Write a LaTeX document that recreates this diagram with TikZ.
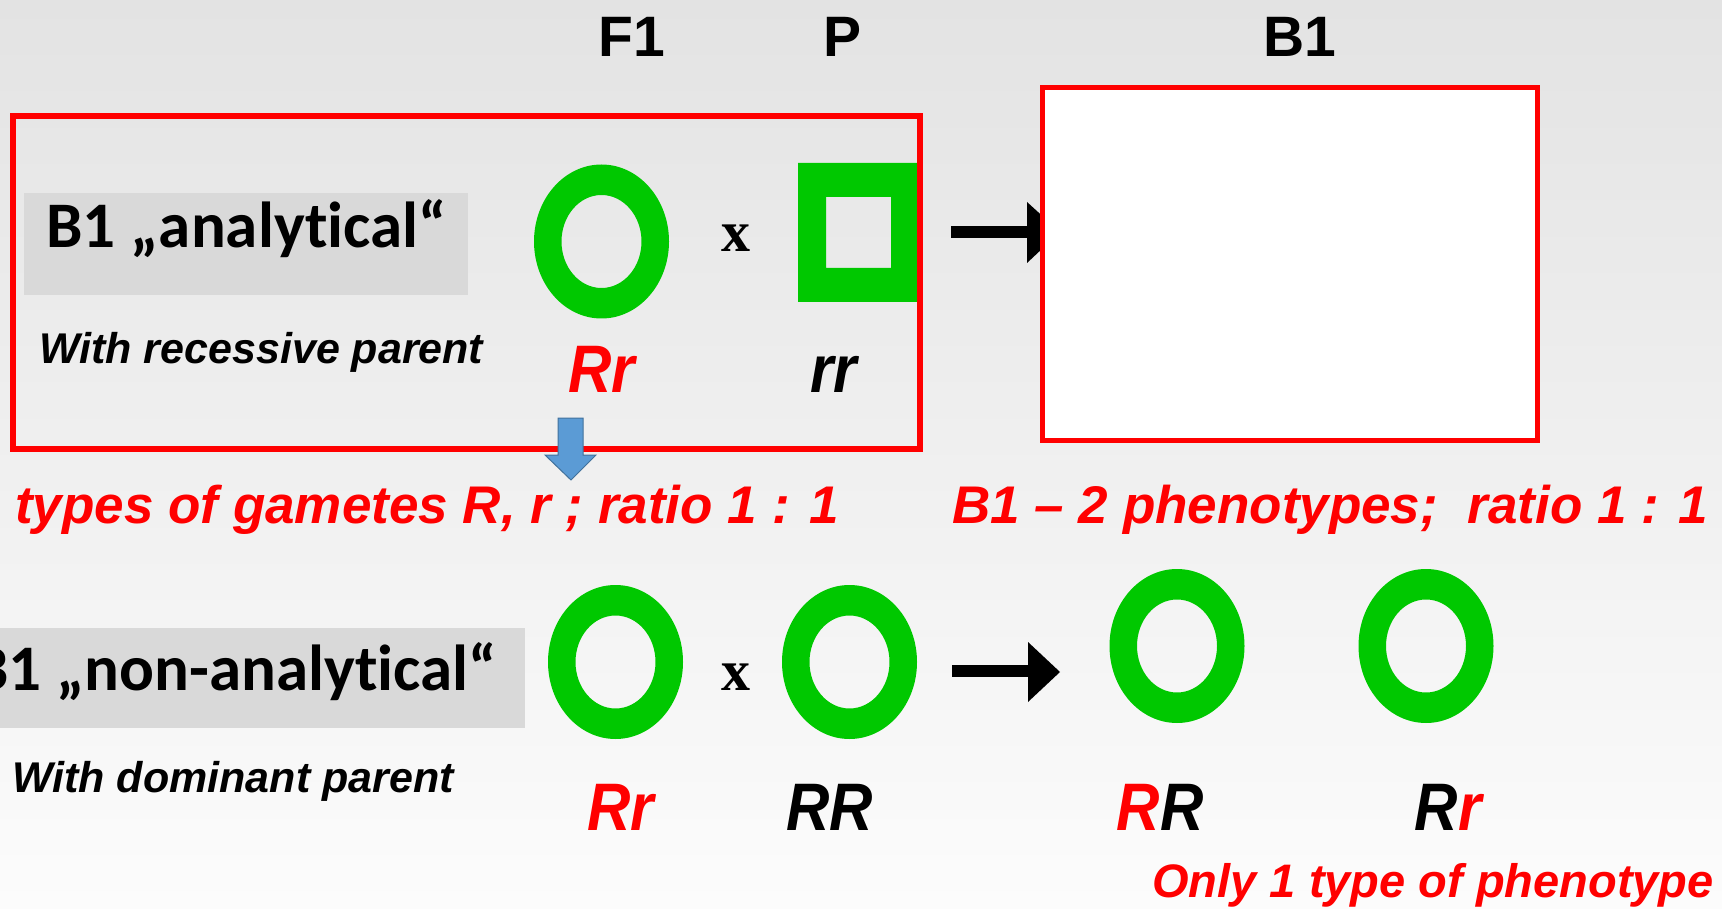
\documentclass[tikz,border=0pt]{standalone}
\usepackage{fontspec}
\setmainfont{Liberation Sans}
\newfontfamily\arialf{Liberation Sans}
\newfontfamily\calib[Ligatures=NoCommon]{Carlito}
\newfontfamily\timesf{Liberation Serif}
\definecolor{bgtop}{RGB}{227,227,227}
\definecolor{bgbot}{RGB}{252,252,252}
\definecolor{ringgreen}{RGB}{0,200,0}
\definecolor{boxred}{RGB}{255,0,0}
\definecolor{labelgray}{RGB}{217,217,217}
\definecolor{arrowblue}{RGB}{91,155,213}
\definecolor{arrowblueedge}{RGB}{65,113,156}
\tikzset{
  title/.style={inner sep=0pt, anchor=base, font=\arialf\bfseries\fontsize{57}{60}\selectfont},
  headlabel/.style={inner sep=0pt, font=\calib\bfseries\fontsize{65}{70}\selectfont},
  sublabel/.style={inner sep=0pt, anchor=base west, font=\arialf\bfseries\itshape\fontsize{43}{48}\selectfont},
  redtext/.style={inner sep=0pt, text=boxred, font=\arialf\bfseries\itshape\fontsize{53}{60}\selectfont},
  geno/.style={inner sep=0pt, anchor=base, font=\arialf\bfseries\itshape\fontsize{60}{66}\selectfont},
  cross/.style={inner sep=0pt, anchor=base, font=\timesf\bfseries\fontsize{58}{60}\selectfont},
  redframe/.style={draw=boxred, line width=6pt},
  ring/.style={fill=ringgreen, even odd rule},
  blackarrow/.style={fill=black},
}
\newcommand\ringat[2]{\fill[ring] (#1,#2) ellipse [x radius=67.5, y radius=77] (#1,#2) ellipse [x radius=40, y radius=46.5];}
\begin{document}
\begin{tikzpicture}[x=1pt,y=1pt]
\useasboundingbox (0,0) rectangle (1722,-909);
\shade[top color=bgtop, bottom color=bgbot] (0,0) rectangle (1722,-909);

% titles
\node[title] (tF1) at (632,-57) {F1};
\node[title] (tP) at (843,-57) {P};
\node[title] (tB1) at (1300,-57) {B1};

% row 1 frame
\draw[redframe] (13,-116) rectangle (920,-449);
\fill[labelgray] (24,-193) rectangle (468,-295);
\node[headlabel, anchor=base west] (lab1) at (46,-248) {B1 „analytical“};
\node[sublabel] (sub1) at (39,-363) {With recessive parent};

% F1 ring and P square
\ringat{601.5}{-241.5}
\node[cross] (x1) at (736,-252) {x};
\fill[ringgreen, even odd rule] (798,-163) rectangle (918,-302) (826,-197) rectangle (891,-268);
\draw[boxred, line width=6pt] (920,-116) -- (920,-449);
\node[geno, text=boxred] (g1) at (602,-392) {\scalebox{1}[1.12]{Rr}};
\node[geno] (g2) at (834,-392) {\scalebox{1}[1.12]{rr}};

% arrow to B1 box
\coordinate (a1s) at (951,-232);
\fill[blackarrow] (951,-226) rectangle (1030,-238);
\fill[blackarrow] (1027,-202) -- (1060,-232) -- (1027,-263) -- cycle;
\filldraw[fill=white, draw=boxred, line width=5pt] (1042,-88) rectangle (1537,-440);

% blue arrow
\filldraw[fill=arrowblue, draw=arrowblueedge, line width=1pt, line join=miter]
  (558,-418) -- (583,-418) -- (583,-455) -- (596,-455) -- (571,-480) -- (545,-455) -- (558,-455) -- cycle;

% red lines of text
\node[redtext, anchor=base west] (gam) at (15,-523) {types of gametes R, r ; ratio 1 : 1};
\node[redtext, anchor=base west] (phe) at (952,-523) {B1 – 2 phenotypes;~ ratio 1 : 1};

% row 2
\fill[labelgray] (0,-628) rectangle (525,-728);
\node[headlabel, anchor=base east] (lab2) at (497,-690) {B1 „non-analytical“};
\node[sublabel] (sub2) at (12,-792) {With dominant parent};
\ringat{615.5}{-662}
\node[cross] (x2) at (736,-690) {x};
\ringat{849.5}{-662}
\fill[blackarrow] (952,-665) rectangle (1030,-677);
\fill[blackarrow] (1028,-642) -- (1060,-672) -- (1028,-702) -- cycle;
\ringat{1177}{-646}
\ringat{1426}{-646}
\node[geno, text=boxred] (g3) at (621,-830) {\scalebox{1}[1.12]{Rr}};
\node[geno] (g4) at (830,-830) {\scalebox{1}[1.12]{RR}};
\node[geno] (g5) at (1160,-830) {\scalebox{1}[1.12]{\textcolor{boxred}{R}R}};
\node[geno] (g6) at (1448,-830) {\scalebox{1}[1.12]{R\textcolor{boxred}{r}}};
\node[redtext, anchor=base east, font=\arialf\bfseries\itshape\fontsize{47}{52}\selectfont] (only) at (1714,-897) {Only 1 type of phenotype};
\end{tikzpicture}
\end{document}
